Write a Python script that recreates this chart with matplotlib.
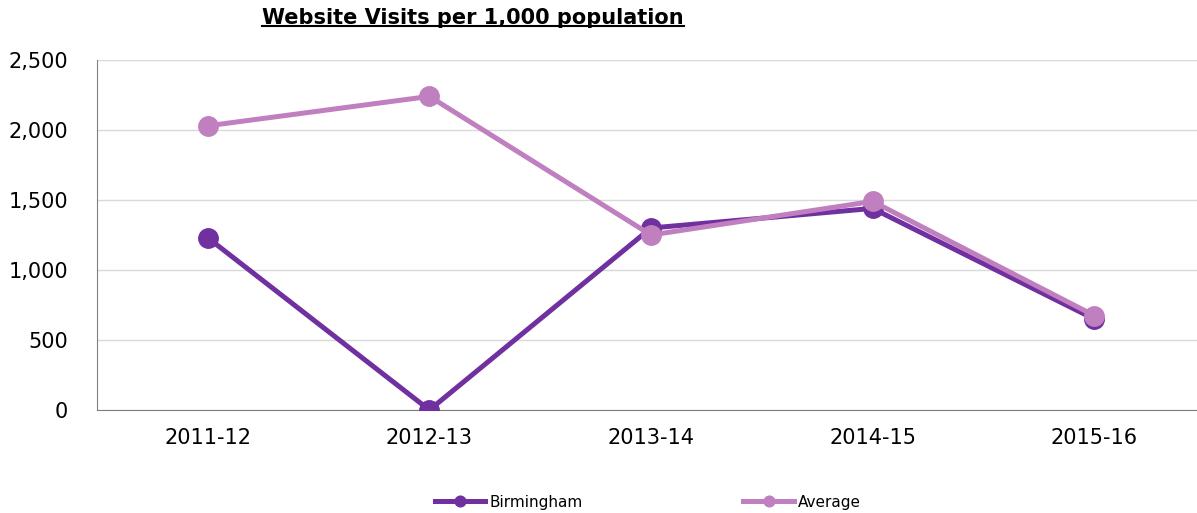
import matplotlib.pyplot as plt
import numpy as np

years = ["2011-12", "2012-13", "2013-14", "2014-15", "2015-16"]
birmingham = [1230, 0, 1300, 1440, 650]
average = [2030, 2240, 1250, 1490, 675]

purple = "#7030A0"
lilac = "#C080C0"

fig = plt.figure(figsize=(11.97, 5.13), dpi=100)
ax = fig.add_axes([97/1197, 1 - 410/513, (1205-97)/1197, 350/513])

x = np.arange(len(years))
ax.plot(x, birmingham, color=purple, lw=3.6, marker="o", ms=14, label="Birmingham", zorder=3)
ax.plot(x, average, color=lilac, lw=3.6, marker="o", ms=14, label="Average", zorder=4)

ax.set_xlim(-0.5, 4.5)
ax.set_ylim(0, 2500)
ax.set_yticks(range(0, 2501, 500))
ax.set_yticklabels([f"{v:,}" for v in range(0, 2501, 500)])
ax.set_xticks(x)
ax.set_xticklabels(years)
ax.tick_params(axis="both", length=0, labelsize=15, colors="black")
ax.tick_params(axis="x", pad=13)
ax.tick_params(axis="y", pad=21)
ax.grid(axis="y", color="#d9d9d9", lw=1)
ax.set_axisbelow(True)
for s in ["top", "right"]:
    ax.spines[s].set_visible(False)
ax.spines["left"].set_color("#808080")
ax.spines["bottom"].set_color("#808080")

title = fig.text(473/1197, 1 - 18/513, "Website Visits per 1,000 population",
                 ha="center", va="center", fontsize=15, fontweight="bold")
fig.canvas.draw()
bb = title.get_window_extent().transformed(fig.transFigure.inverted())
fig.add_artist(plt.Line2D([bb.x0, bb.x1], [bb.y0 + 0.004, bb.y0 + 0.004],
                          color="black", lw=1.5, transform=fig.transFigure))

fig.legend(loc="center", bbox_to_anchor=(648/1197, 1 - 502/513), ncol=2,
           frameon=False, fontsize=11, markerscale=0.55, handlelength=3.3,
           columnspacing=10.5, handletextpad=0.3)

fig.savefig("out.png", dpi=100)
